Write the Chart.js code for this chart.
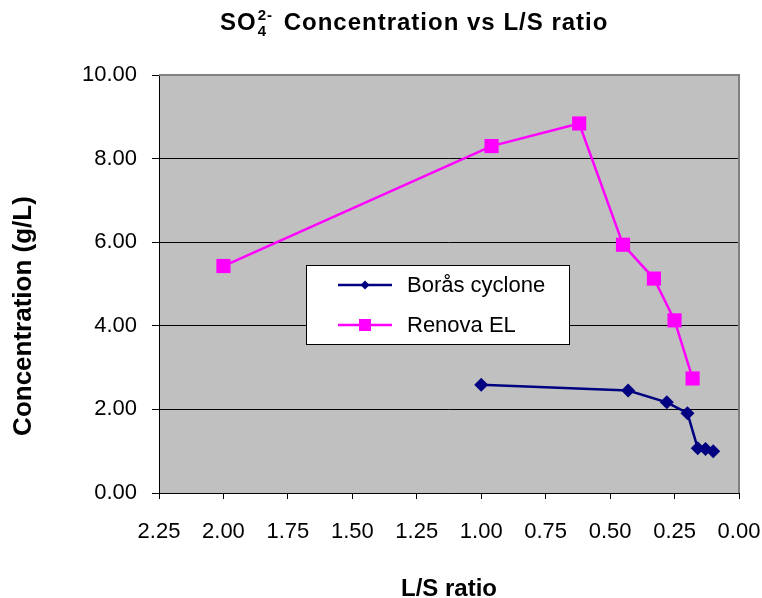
<!DOCTYPE html>
<html>
<head>
<meta charset="utf-8">
<script src="https://cdn.jsdelivr.net/npm/chart.js@4.4.1/dist/chart.umd.min.js"></script>
<style>
  html, body { margin: 0; padding: 0; background: #fff; }
  #wrap { width: 762px; height: 598px; }
</style>
</head>
<body>
<div id="wrap"><canvas id="sulfateChart" width="762" height="598"></canvas></div>
<script>
// L/S ratio vs SO4 concentration (g/L)
const borasLS = [1.00, 0.43, 0.28, 0.20, 0.16, 0.13, 0.10];
const borasConc = [2.59, 2.45, 2.17, 1.91, 1.07, 1.05, 1.00];
const renovaLS = [2.00, 0.96, 0.62, 0.45, 0.33, 0.25, 0.18];
const renovaConc = [5.43, 8.30, 8.84, 5.94, 5.13, 4.13, 2.74];
const seriesNames = ['Borås cyclone', 'Renova EL'];

const xTicks = [0, 0.25, 0.5, 0.75, 1, 1.25, 1.5, 1.75, 2, 2.25];
const yTicks = [0, 2, 4, 6, 8, 10];

const FONT = '"Liberation Sans", Arial, sans-serif';

function toPoints(xs, ys) {
    return xs.map((x, i) => ({ x: x, y: ys[i] }));
}

// grey plot area + grey top/right frame like the excel chart
const plotBackground = {
    id: 'plotBackground',
    beforeDraw: (chart) => {
        const { ctx, chartArea: a } = chart;
        ctx.save();
        ctx.fillStyle = '#C0C0C0';
        ctx.fillRect(a.left, a.top, a.right - a.left, a.bottom - a.top);
        ctx.restore();
    },
    beforeDatasetsDraw: (chart) => {
        const { ctx, chartArea: a } = chart;
        ctx.save();
        ctx.strokeStyle = '#808080';
        ctx.lineWidth = 2;
        ctx.beginPath();
        ctx.moveTo(a.left, a.top);
        ctx.lineTo(a.right, a.top);
        ctx.lineTo(a.right, a.bottom);
        ctx.stroke();
        ctx.restore();
    }
};

// title with sub/superscript and rotated y title
const titles = {
    id: 'titles',
    afterDraw: (chart) => {
        const ctx = chart.ctx;
        ctx.save();
        ctx.fillStyle = '#000';
        ctx.textBaseline = 'alphabetic';
        ctx.textAlign = 'left';
        ctx.letterSpacing = '1px';
        const base = 30;
        let x = 220;
        ctx.font = 'bold 24px ' + FONT;
        ctx.fillText('SO', x, base);
        x += ctx.measureText('SO').width;
        ctx.font = 'bold 15px ' + FONT;
        ctx.fillText('4', x + 1, base + 6);
        ctx.fillText('2-', x + 1, base - 10);
        x += ctx.measureText('2-').width + 4;
        ctx.font = 'bold 24px ' + FONT;
        ctx.fillText(' Concentration vs L/S ratio', x, base);

        ctx.letterSpacing = '0px';
        ctx.translate(24, 316);
        ctx.rotate(-Math.PI / 2);
        ctx.textAlign = 'center';
        ctx.textBaseline = 'middle';
        ctx.font = 'bold 26px ' + FONT;
        ctx.fillText('Concentration (g/L)', 0, 0);
        ctx.restore();
    }
};

// boxed legend inside the plot area
const boxLegend = {
    id: 'boxLegend',
    afterDraw: (chart) => {
        const ctx = chart.ctx;
        const box = { left: 306, top: 265, width: 263, height: 79 };
        ctx.save();
        ctx.fillStyle = '#fff';
        ctx.fillRect(box.left, box.top, box.width, box.height);
        ctx.strokeStyle = '#000';
        ctx.lineWidth = 1;
        ctx.strokeRect(box.left + 0.5, box.top + 0.5, box.width, box.height);
        chart.data.datasets.forEach((ds, i) => {
            const y = box.top + 20 + i * 40;
            ctx.strokeStyle = ds.borderColor;
            ctx.lineWidth = 2.5;
            ctx.beginPath();
            ctx.moveTo(338, y);
            ctx.lineTo(392, y);
            ctx.stroke();
            ctx.fillStyle = ds.backgroundColor;
            Chart.helpers.drawPoint(ctx, {
                pointStyle: ds.pointStyle,
                radius: i === 0 ? 4.5 : 8.5,
                rotation: 0,
                borderWidth: 0
            }, 365, y);
            ctx.fillStyle = '#000';
            ctx.font = '22px ' + FONT;
            ctx.textBaseline = 'middle';
            ctx.textAlign = 'left';
            ctx.fillText(ds.label, 407, y + 1);
        });
        ctx.restore();
    }
};

const ctx = document.getElementById('sulfateChart').getContext('2d');
const chart = new Chart(ctx, {
    type: 'line',
    data: {
        datasets: [{
            label: seriesNames[0],
            data: toPoints(borasLS, borasConc),
            borderColor: '#000080',
            backgroundColor: '#000080',
            borderWidth: 2.5,
            pointStyle: 'rectRot',
            pointRadius: 7,
            pointBorderWidth: 0,
            tension: 0
        }, {
            label: seriesNames[1],
            data: toPoints(renovaLS, renovaConc),
            borderColor: '#FF00FF',
            backgroundColor: '#FF00FF',
            borderWidth: 2.5,
            pointStyle: 'rect',
            pointRadius: 10,
            pointBorderWidth: 0,
            tension: 0
        }]
    },
    options: {
        responsive: false,
        animation: false,
        layout: { padding: { left: 0, top: 75, right: 23, bottom: 0 } },
        plugins: {
            legend: { display: false },
            title: { display: false },
            tooltip: { enabled: false }
        },
        scales: {
            x: {
                type: 'linear',
                reverse: true,
                min: 0,
                max: 2.25,
                afterFit: (scale) => { scale.height = 105; },
                afterBuildTicks: (scale) => { scale.ticks = xTicks.map(v => ({ value: v })); },
                grid: {
                    drawOnChartArea: false,
                    drawTicks: true,
                    tickLength: 6,
                    tickColor: '#000'
                },
                border: { display: true, color: '#000', width: 1 },
                ticks: {
                    color: '#000',
                    font: { family: FONT, size: 22 },
                    padding: 20,
                    maxRotation: 0,
                    autoSkip: false,
                    callback: (v) => Number(v).toFixed(2)
                },
                title: {
                    display: true,
                    text: 'L/S ratio',
                    color: '#000',
                    font: { family: FONT, size: 24, weight: 'bold', lineHeight: 1 },
                    padding: { top: 0, bottom: -3 }
                }
            },
            y: {
                min: 0,
                max: 10,
                afterFit: (scale) => { scale.width = 159; },
                afterBuildTicks: (scale) => { scale.ticks = yTicks.map(v => ({ value: v })); },
                grid: {
                    color: '#000',
                    lineWidth: 1,
                    drawTicks: true,
                    tickLength: 7,
                    tickColor: '#000'
                },
                border: { display: true, color: '#000', width: 1 },
                ticks: {
                    color: '#000',
                    font: { family: FONT, size: 22 },
                    padding: 15,
                    callback: (v) => Number(v).toFixed(2)
                }
            }
        }
    },
    plugins: [plotBackground, titles, boxLegend]
});
</script>
</body>
</html>
